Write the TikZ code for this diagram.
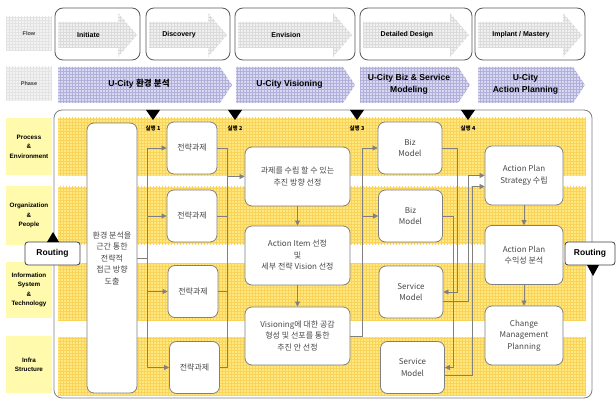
\documentclass[tikz,border=0pt]{standalone}
\usepackage{fontspec}
\setmainfont{Liberation Sans}
\newfontfamily\kr{Noto Sans CJK KR}
\usepackage{tikz}
\usetikzlibrary{arrows.meta,positioning,patterns}
\definecolor{bandyellow}{RGB}{255,232,128}
\definecolor{bandgrid}{RGB}{250,212,90}
\definecolor{lanebg}{RGB}{255,250,172}
\definecolor{phasebg}{RGB}{216,216,240}
\definecolor{phasegrid}{RGB}{176,176,218}
\definecolor{linegray}{RGB}{128,128,128}
\definecolor{boxtext}{RGB}{72,72,72}

\begin{document}
\begin{tikzpicture}[x=1pt,y=-1pt,
box/.style={draw=linegray,line width=0.8pt,rounded corners=7pt,fill=white,align=center,text=boxtext,font=\kr\fontsize{8}{11.5}\selectfont,inner sep=1pt},
taskbox/.style={box,minimum width=50pt,minimum height=52pt},
modelbox/.style={box,minimum width=64pt,minimum height=52pt},
widebox/.style={box,minimum width=105pt,minimum height=59pt},
planbox/.style={box,minimum width=78pt,minimum height=59pt},
routebox/.style={draw=black!75,line width=0.8pt,rounded corners=3pt,fill=white,minimum height=23pt,font=\bfseries\fontsize{8.5}{9}\selectfont,inner sep=0pt},
lane/.style={fill=lanebg,align=center,minimum width=46pt,inner sep=0pt,font=\bfseries\fontsize{6.3}{9.4}\selectfont},
tag/.style={preaction={fill=gray!10},pattern=grid,pattern color=gray!22,minimum width=46pt,minimum height=34pt,inner sep=0pt,text=black!75,font=\bfseries\fontsize{5.5}{6}\selectfont},
flowbox/.style={draw=black!65,line width=0.8pt,rounded corners=8pt,minimum height=52pt,inner sep=0pt},
flowfill/.style={preaction={fill=gray!12},pattern=grid,pattern color=gray!28},
flowtext/.style={font=\bfseries\fontsize{7}{8}\selectfont,inner sep=0pt},
phasefill/.style={preaction={fill=phasebg},pattern=grid,pattern color=phasegrid},
phasetext/.style={align=center,font=\bfseries\fontsize{8.6}{12}\selectfont,inner sep=0pt},
band/.style={preaction={fill=bandyellow},pattern=grid,pattern color=bandgrid},
runlabel/.style={font=\kr\bfseries\fontsize{5.5}{6}\selectfont,inner sep=0pt},
arrow/.style={-{Triangle[length=5pt,width=5pt]},draw=linegray,line width=0.7pt},
link/.style={draw=linegray,line width=0.7pt}
]
\useasboundingbox (0,0) rectangle (616,401);

% flow row
\node[tag] (flowtag) at (29,34) {Flow};
\foreach \a/\b/\t [count=\i] in {55/140/Initiate,146/230/Discovery,235/355/Envision,360/472/Detailed Design,475/585/{Implant / Mastery}}{
  \path[flowfill] (\a+3,22) -- (\b-22,22) -- (\b-22,13) -- (\b-3,35) -- (\b-22,57) -- (\b-22,48) -- (\a+3,48) -- cycle;
  \node[flowbox,minimum width={(\b-\a)*1pt}] (flow\i) at ({(\a+\b)/2},34) {};
  \node[flowtext] (flowlabel\i) at ({(\a+\b)/2-9},35) {\t};
}

% phase row
\node[tag] (phasetag) at (29,84) {Phase};
\foreach \a/\b/\t [count=\i] in {58/232/{U-City {\kr 환경 분석}},236/355/{U-City Visioning},360/470/{U-City Biz \& Service\\Modeling},478/585/{U-City\\Action Planning}}{
  \path[phasefill] (\a,67) -- (\b-12,67) -- (\b,85) -- (\b-12,103) -- (\a,103) -- cycle;
  \node[phasetext] (phase\i) at ({(\a+\b)/2-6},84) {\t};
}

% frame and lanes
\draw[linegray,line width=0.8pt,rounded corners=8pt] (54,110) rectangle (592,398);
\foreach \ya/\yb in {118/176,187/244,263/320,337/395}
  \path[band] (58,\ya) rectangle (586,\yb);
\node[lane,minimum height=57pt] (lane1) at (29,146.5) {Process\\\&\\Environment};
\node[lane,minimum height=59pt] (lane2) at (29,215.5) {Organization\\\&\\People};
\node[lane,minimum height=56pt] (lane3) at (29,290) {Information\\System\\\&\\Technology};
\node[lane,minimum height=57pt] (lane4) at (29,364.5) {Infra\\Structure};

% execution markers
\foreach \x [count=\n] in {153,235,357,468}{
  \fill (\x-7,110) -- (\x+7,110) -- (\x,120) -- cycle;
  \node[runlabel] (run\n) at (\x,128) {실행 \n};
}

% boxes
\node[box,minimum width=50pt,minimum height=270pt] (env) at (112,258) {환경 분석을\\근간 통한\\전략적\\접근 방향\\도출};
\node[taskbox] (task1) at (192,148) {전략과제};
\node[taskbox] (task2) at (192,216) {전략과제};
\node[taskbox] (task3) at (193,291.5) {전략과제};
\node[taskbox] (task4) at (194.5,367.5) {전략과제};
\node[widebox] (dirA) at (297.5,176.5) {과제를 수립 할 수 있는\\추진 방향 선정};
\node[widebox] (dirB) at (297.5,255.5) {Action Item 선정\\및\\세부 전략 Vision 선정};
\node[widebox,minimum height=58pt] (dirC) at (297.5,336) {Visioning에 대한 공감\\형성 및 선포를 통한\\추진 안 선정};
\node[modelbox] (biz1) at (410,148) {Biz\\Model};
\node[modelbox] (biz2) at (410.5,216) {Biz\\Model};
\node[modelbox] (svc1) at (411,292) {Service\\Model};
\node[modelbox] (svc2) at (412.5,367.5) {Service\\Model};
\node[planbox] (plan1) at (524,175.5) {Action Plan\\Strategy 수립};
\node[planbox] (plan2) at (524,255) {Action Plan\\수익성 분석};
\node[planbox] (plan3) at (524,335.5) {Change\\Management\\Planning};

% routing
\node[routebox,minimum width=55pt] (routeL) at (52.5,253.5) {Routing};
\node[routebox,minimum width=50pt] (routeR) at (590,253.5) {Routing};
\fill (47,242) -- (59,242) -- (53,232) -- cycle;
\fill (587,265) -- (599,265) -- (593,276) -- cycle;

% connectors
\coordinate (busA) at (147,258);
\coordinate (busB) at (227,258);
\coordinate (busC) at (362,258);
\coordinate (busD) at (457,258);
\coordinate (busE) at (453,258);
\coordinate (busF) at (468,258);
\coordinate (busG) at (472,258);
\draw[link] (env.east) -- (env.east -| busA);
\draw[link] (busA |- task1.west) -- (busA |- task4.west);
\foreach \n in {1,...,4}{
  \draw[arrow] (busA |- task\n.west) -- (task\n.west);
  \draw[link] (task\n.east) -- (busB |- task\n.east);
}
\draw[link] (busB |- task1.east) -- (busB |- task4.east);
\draw[arrow] (busB |- dirA.west) -- (dirA.west);
\draw[arrow] (dirA) -- (dirB);
\draw[arrow] (dirB) -- (dirC);
\draw[link] (dirC.east) -| (busC |- biz1.west);
\draw[arrow] (busC |- biz1.west) -- (biz1.west);
\draw[arrow] (busC |- biz2.west) -- (biz2.west);
\draw[arrow] (biz1.east) -- (biz1.east -| busD) |- (svc1.east);
\draw[arrow] (biz2.east) -- (biz2.east -| busE) |- (svc2.east);
\draw[arrow] ([yshift=-9pt]svc1.east) -- ([yshift=-9pt]svc1.east -| busF) |- (plan1.west);
\draw[arrow] ([yshift=-8pt]svc2.east) -- ([yshift=-8pt]svc2.east -| busG) |- ([yshift=-11pt]plan1.west);
\draw[arrow] (plan1) -- (plan2);
\draw[arrow] (plan2) -- (plan3);
\end{tikzpicture}
\end{document}
